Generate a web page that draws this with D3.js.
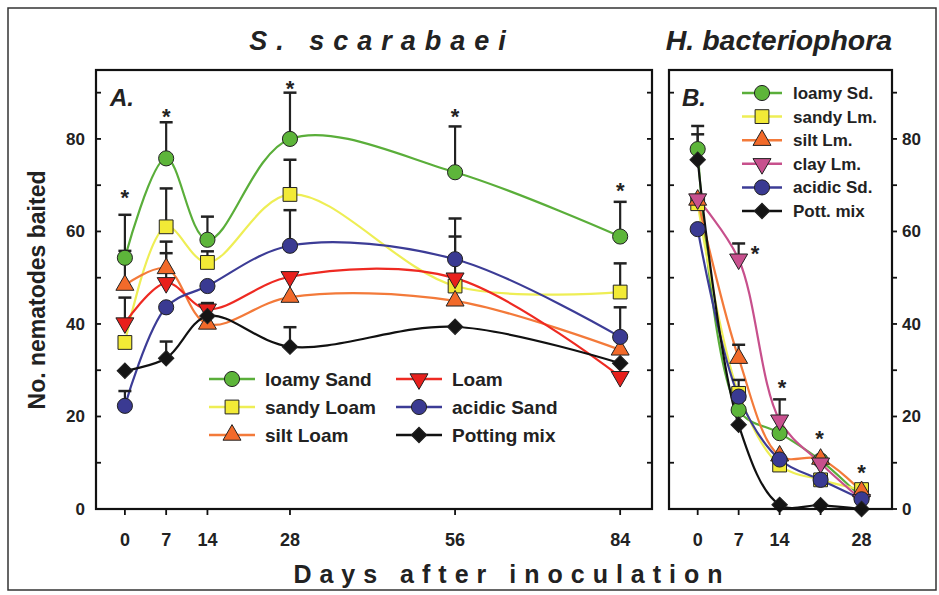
<!DOCTYPE html>
<html>
<head>
<meta charset="utf-8">
<script src="https://d3js.org/d3.v7.min.js"></script>
<style>
  body { margin: 0; background: #fff; }
  text { font-family: "Liberation Sans", Arial, sans-serif; font-weight: bold; fill: #222; }
  .narrow { font-family: "Liberation Sans Narrow", "Arial Narrow", sans-serif; }
</style>
</head>
<body>
<div id="chart"></div>
<script>
// ---- data: panel A (S. scarabaei) ----
const daysA = [0, 7, 14, 28, 56, 84];
const tickLabelsA = [0, 7, 14, 28, 56, 84];
const loamySandA = [54.3, 75.8, 58.2, 80, 72.8, 58.9];
const sandyLoamA = [36, 61, 53.3, 68, 48.2, 46.9];
const siltLoamA = [48.4, 52, 40, 45.8, 45, 34.4];
const loamA = [40.2, 48.9, 43.2, 50.2, 49.9, 28.6];
const acidicSandA = [22.3, 43.6, 48.2, 56.9, 54, 37.2];
const pottingMixA = [29.9, 32.6, 41.7, 35.1, 39.4, 31.5];

// upper error bars (null = not visible)
const loamySandErrA = [9.3, 7.8, 5, 10, 9.9, 7.5];
const sandyLoamErrA = [null, 8.3, 2.4, 7.5, null, 6.2];
const siltLoamErrA = [7.4, 5.8, null, null, null, null];
const loamErrA = [5.5, 6.4, 1.3, null, 9, null];
const acidicSandErrA = [3.2, null, null, 7.7, 8.8, 6.4];
const pottingMixErrA = [null, 3.6, 2.8, 4.2, null, null];

// asterisks [day, value]
const starsA = [[0, 68.5], [7, 86], [28, 92], [56, 86], [84, 70]];

// ---- data: panel B (H. bacteriophora) ----
const daysB = [0, 7, 14, 21, 28];
const tickLabelsB = [0, 7, 14, 28];
const loamySdB = [77.8, 21.4, 16.4, 10.5, 2.5];
const sandyLmB = [66, 25, 9.5, 6.3, 4.2];
const siltLmB = [66.8, 32.6, 11.5, 10.8, 3.8];
const clayLmB = [67, 54, 19.2, 9.9, 2];
const acidicSdB = [60.5, 24.3, 10.7, 6.3, 2.1];
const pottMixB = [75.5, 18.2, 0.9, 0.8, 0];

const loamySdErrB = [5, null, null, null, null];
const sandyLmErrB = [null, null, null, null, null];
const siltLmErrB = [null, 2.9, null, null, null];
const clayLmErrB = [null, 3.4, 4.5, null, null];
const acidicSdErrB = [null, 3.6, null, null, null];
const pottMixErrB = [5.5, null, null, null, null];

const starsB = [[9.8, 56.4], [14.4, 27.5], [20.8, 16.4], [28, 9.1]];

const yTicks = d3.range(0, 91, 10);
const yLabels = [0, 20, 40, 60, 80];

const width = 939;
const height = 595;

const svg = d3.select("#chart")
  .append("svg")
  .attr("width", width)
  .attr("height", height);

// outer frame
svg.append("rect")
  .attr("x", 8).attr("y", 8)
  .attr("width", 928).attr("height", 582)
  .attr("fill", "none")
  .attr("stroke", "#333")
  .attr("stroke-width", 1.5);

const y = d3.scaleLinear().domain([0, 94.9]).range([509, 70]);
const xA = d3.scaleLinear().domain([-4.9, 89.4]).range([96, 652]);
const xB = d3.scaleLinear().domain([-4.9, 33.2]).range([669, 892]);

// marker styles
const styles = {
  loamy:  { line: "#5aae3a", fill: "#5db53a", shape: "circle" },
  sandy:  { line: "#eeee55", fill: "#f2ea36", shape: "square" },
  silt:   { line: "#f37a3a", fill: "#f26a2a", shape: "up" },
  loam:   { line: "#ee2a22", fill: "#e8201c", shape: "down" },
  clay:   { line: "#c7508c", fill: "#c8508e", shape: "down" },
  acidic: { line: "#3c3c96", fill: "#3a3a92", shape: "circle" },
  pott:   { line: "#111111", fill: "#151515", shape: "diamond" }
};

function marker(g, st, cx, cy) {
  let sym, rot = 0;
  if (st.shape === "circle") sym = d3.symbol(d3.symbolCircle, 180);
  else if (st.shape === "square") sym = d3.symbol(d3.symbolSquare, 190);
  else if (st.shape === "up") sym = d3.symbol(d3.symbolTriangle, 140);
  else if (st.shape === "down") { sym = d3.symbol(d3.symbolTriangle, 140); rot = 180; }
  else { sym = d3.symbol(d3.symbolSquare, 120); rot = 45; }
  g.append("path")
    .attr("d", sym)
    .attr("transform", `translate(${cx},${cy}) rotate(${rot})`)
    .attr("fill", st.fill)
    .attr("stroke", "#222")
    .attr("stroke-width", 1);
}

const line = d3.line().curve(d3.curveCatmullRom.alpha(0.5));

function drawPanel(x, days, series, stars, left, right, xTickVals, xLabels, rightLabels) {
  const g = svg.append("g");

  // lines
  series.forEach(s => {
    g.append("path")
      .attr("d", line(days.map((d, i) => [x(d), y(s.values[i])])))
      .attr("fill", "none")
      .attr("stroke", s.style.line)
      .attr("stroke-width", 2.2);
  });

  // error bars (upper only)
  series.forEach(s => {
    days.forEach((d, i) => {
      const e = s.err[i];
      if (e == null) return;
      const top = y(s.values[i] + e);
      g.append("line")
        .attr("x1", x(d)).attr("x2", x(d))
        .attr("y1", y(s.values[i])).attr("y2", top)
        .attr("stroke", "#222").attr("stroke-width", 2.2);
      g.append("line")
        .attr("x1", x(d) - 6.5).attr("x2", x(d) + 6.5)
        .attr("y1", top).attr("y2", top)
        .attr("stroke", "#222").attr("stroke-width", 2.5);
    });
  });

  // markers
  series.forEach(s => {
    days.forEach((d, i) => marker(g, s.style, x(d), y(s.values[i])));
  });

  // asterisks
  g.selectAll(".star")
    .data(stars)
    .enter().append("text")
    .attr("class", "star")
    .attr("x", d => x(d[0]))
    .attr("y", d => y(d[1]) + 13)
    .attr("text-anchor", "middle")
    .style("font-size", "22px")
    .text("*");

  // frame
  g.append("rect")
    .attr("x", left).attr("y", 70)
    .attr("width", right - left).attr("height", 509 - 70)
    .attr("fill", "none")
    .attr("stroke", "#111")
    .attr("stroke-width", 2.2);

  // y ticks: left side inside
  g.selectAll(".ytl")
    .data(yTicks).enter().append("line")
    .attr("x1", left).attr("x2", left + 5)
    .attr("y1", d => y(d)).attr("y2", d => y(d))
    .attr("stroke", "#111").attr("stroke-width", 1.8);

  // y ticks: right side
  g.selectAll(".ytr")
    .data(yTicks).enter().append("line")
    .attr("x1", right).attr("x2", rightLabels ? right + 5 : right - 5)
    .attr("y1", d => y(d)).attr("y2", d => y(d))
    .attr("stroke", "#111").attr("stroke-width", 1.8);

  // x ticks, outward
  g.selectAll(".xt")
    .data(xTickVals).enter().append("line")
    .attr("x1", d => x(d)).attr("x2", d => x(d))
    .attr("y1", 509).attr("y2", 515)
    .attr("stroke", "#111").attr("stroke-width", 1.8);

  g.selectAll(".xl")
    .data(xLabels).enter().append("text")
    .attr("class", "narrow")
    .attr("x", d => x(d))
    .attr("y", 546)
    .attr("text-anchor", "middle")
    .style("font-size", "18px")
    .text(d => d);

  return g;
}

const seriesA = [
  { values: loamySandA, err: loamySandErrA, style: styles.loamy },
  { values: sandyLoamA, err: sandyLoamErrA, style: styles.sandy },
  { values: siltLoamA, err: siltLoamErrA, style: styles.silt },
  { values: loamA, err: loamErrA, style: styles.loam },
  { values: acidicSandA, err: acidicSandErrA, style: styles.acidic },
  { values: pottingMixA, err: pottingMixErrA, style: styles.pott }
];

const seriesB = [
  { values: loamySdB, err: loamySdErrB, style: styles.loamy },
  { values: sandyLmB, err: sandyLmErrB, style: styles.sandy },
  { values: siltLmB, err: siltLmErrB, style: styles.silt },
  { values: clayLmB, err: clayLmErrB, style: styles.clay },
  { values: acidicSdB, err: acidicSdErrB, style: styles.acidic },
  { values: pottMixB, err: pottMixErrB, style: styles.pott }
];

drawPanel(xA, daysA, seriesA, starsA, 96, 652, daysA, tickLabelsA, false);
drawPanel(xB, daysB, seriesB, starsB, 669, 892, daysB, tickLabelsB, true);

// y labels left of panel A
svg.selectAll(".yla")
  .data(yLabels).enter().append("text")
  .attr("x", 85)
  .attr("y", d => y(d) + 6)
  .attr("text-anchor", "end")
  .style("font-size", "17px")
  .text(d => d);

// y labels right of panel B
svg.selectAll(".ylb")
  .data(yLabels).enter().append("text")
  .attr("x", 902)
  .attr("y", d => y(d) + 6)
  .style("font-size", "17px")
  .text(d => d);

// axis title
svg.append("text")
  .attr("transform", "translate(45,290) rotate(-90)")
  .attr("text-anchor", "middle")
  .style("font-size", "23px")
  .text("No. nematodes baited");

svg.append("text")
  .attr("class", "narrow")
  .attr("x", 512).attr("y", 583)
  .attr("text-anchor", "middle")
  .style("font-size", "25px")
  .style("letter-spacing", "8px")
  .text("Days after inoculation");

// panel titles
svg.append("text")
  .attr("class", "narrow")
  .attr("x", 382).attr("y", 50)
  .attr("text-anchor", "middle")
  .style("font-size", "27px")
  .style("font-style", "italic")
  .style("letter-spacing", "9px")
  .text("S. scarabaei");

svg.append("text")
  .attr("class", "narrow")
  .attr("x", 779).attr("y", 50)
  .attr("text-anchor", "middle")
  .style("font-size", "28.5px")
  .style("font-style", "italic")
  .text("H. bacteriophora");

svg.append("text")
  .attr("x", 110).attr("y", 106)
  .style("font-size", "24px")
  .style("font-style", "italic")
  .text("A.");

svg.append("text")
  .attr("x", 682).attr("y", 106)
  .style("font-size", "24px")
  .style("font-style", "italic")
  .text("B.");

// legend panel A
const legendA = [
  { name: "loamy Sand", style: styles.loamy },
  { name: "sandy Loam", style: styles.sandy },
  { name: "silt Loam", style: styles.silt },
  { name: "Loam", style: styles.loam },
  { name: "acidic Sand", style: styles.acidic },
  { name: "Potting mix", style: styles.pott }
];

legendA.forEach((d, i) => {
  const col = Math.floor(i / 3);
  const row = i % 3;
  const x0 = col === 0 ? 209 : 396;
  const y0 = 379 + row * 28;
  svg.append("line")
    .attr("x1", x0).attr("x2", x0 + 46)
    .attr("y1", y0).attr("y2", y0)
    .attr("stroke", d.style.line).attr("stroke-width", 2.5);
  marker(svg, d.style, x0 + 23, y0);
  svg.append("text")
    .attr("x", x0 + 56).attr("y", y0 + 7)
    .style("font-size", "19px")
    .text(d.name);
});

// legend panel B
const legendB = [
  { name: "loamy Sd.", style: styles.loamy },
  { name: "sandy Lm.", style: styles.sandy },
  { name: "silt Lm.", style: styles.silt },
  { name: "clay Lm.", style: styles.clay },
  { name: "acidic Sd.", style: styles.acidic },
  { name: "Pott. mix", style: styles.pott }
];

legendB.forEach((d, i) => {
  const y0 = 93 + i * 23.6;
  svg.append("line")
    .attr("x1", 742).attr("x2", 782)
    .attr("y1", y0).attr("y2", y0)
    .attr("stroke", d.style.line).attr("stroke-width", 2.5);
  marker(svg, d.style, 762, y0);
  svg.append("text")
    .attr("x", 793).attr("y", y0 + 6)
    .style("font-size", "17px")
    .text(d.name);
});
</script>
</body>
</html>
